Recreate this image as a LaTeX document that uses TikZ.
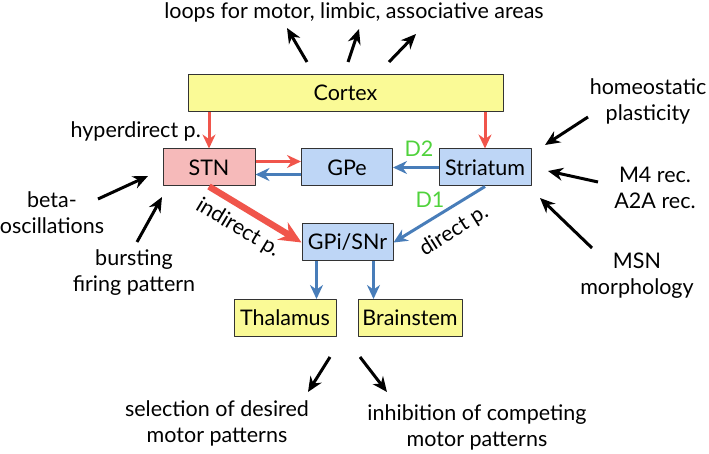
\documentclass[tikz,border=0pt]{standalone}
\usepackage{fontspec}
\setmainfont{Lato}
\usetikzlibrary{arrows.meta}
\definecolor{boxyellow}{RGB}{250,250,150}
\definecolor{boxpink}{RGB}{246,186,186}
\definecolor{boxblue}{RGB}{190,214,246}
\definecolor{exred}{RGB}{240,85,75}
\definecolor{inblue}{RGB}{72,125,185}
\definecolor{dgreen}{RGB}{80,210,60}
\begin{document}
\begin{tikzpicture}[x=1pt, y=-1pt, line join=round, >={Stealth[length=14pt,width=13pt]},
  font=\fontsize{21.5}{26}\selectfont,
  nucl/.style={draw=black!80, line width=1pt, minimum height=37pt, inner sep=0pt},
  exc/.style={->, exred, line width=3pt},
  inh/.style={->, inblue, line width=3pt},
  note/.style={-{Stealth[length=15pt,width=13pt]}, line width=3pt}]
\useasboundingbox (0,0) rectangle (709,454);
% nuclei
\node[nucl, fill=boxyellow, minimum width=315pt] (cortex) at (345.5,93) {Cortex};
\node[nucl, fill=boxpink, minimum width=92pt] (stn) at (209,167.5) {STN};
\node[nucl, fill=boxblue, minimum width=91pt] (gpe) at (347,167.5) {GPe};
\node[nucl, fill=boxblue, minimum width=92pt] (str) at (485,167.5) {Striatum};
\node[nucl, fill=boxblue, minimum width=91pt] (gpi) at (347.5,242.5) {GPi/SNr};
\node[nucl, fill=boxyellow, minimum width=102pt] (thal) at (285,318) {Thalamus};
\node[nucl, fill=boxyellow, minimum width=104pt] (brain) at (410,318) {Brainstem};
% pathways
\draw[exc] (cortex.south -| stn) -- (stn);
\draw[exc] (cortex.south -| str) -- (str);
\draw[exc] ([yshift=6pt]stn.east) -- ([yshift=6pt]gpe.west);
\draw[inh] ([yshift=-7pt]gpe.west) -- ([yshift=-7pt]stn.east);
\draw[inh] (str) -- (gpe);
\draw[exc, line width=6.5pt, -{Stealth[length=22pt,width=20pt]}] (stn.south) -- (gpi.west);
\draw[inh] (str.south) -- (gpi.east);
\draw[inh] ([xshift=-31pt]gpi.south) -- ([xshift=-31pt]gpi.south |- thal.north);
\draw[inh] ([xshift=26pt]gpi.south) -- ([xshift=26pt]gpi.south |- brain.north);
% labels
\node[text=dgreen] (d2) at (419,149) {D2};
\node[text=dgreen] (d1) at (430,200) {D1};
\node[rotate=-31] (indir) at (238,228) {indirect p.};
\node[rotate=32] (dir) at (454,231) {direct p.};
\node[anchor=east, inner sep=0pt] (hyper) at (201,131) {hyperdirect p.};
\node (loops) at (354,12) {loops for motor, limbic, associative areas};
\node[align=center] (beta) at (52,213) {beta-\\oscillations};
\node[align=center] (burst) at (134,272.5) {bursting\\firing pattern};
\node[align=center] (homeo) at (648,101) {homeostatic\\plasticity};
\node[align=center] (rec) at (655,187.5) {M4 rec.\\A2A rec.};
\node[align=center] (msn) at (637,275.5) {MSN\\morphology};
\node[align=center] (sel) at (217,423) {selection of desired\\motor patterns};
\node[align=center] (inhib) at (477,427.5) {inhibition of competing\\motor patterns};
% influences
\coordinate (loopsA) at (307,62); \coordinate (loopsA') at (287,28);
\coordinate (loopsB) at (348,62); \coordinate (loopsB') at (359,29);
\coordinate (loopsC) at (389,62); \coordinate (loopsC') at (416,34);
\coordinate (betaA) at (98,199); \coordinate (betaA') at (148,176);
\coordinate (burstA) at (137,242); \coordinate (burstA') at (162,197);
\coordinate (homeoA) at (588,117); \coordinate (homeoA') at (545,145);
\coordinate (recA) at (598,182); \coordinate (recA') at (548,171);
\coordinate (msnA) at (592,248); \coordinate (msnA') at (540,198);
\coordinate (selA) at (330,357); \coordinate (selA') at (308,392);
\coordinate (inhibA) at (360,357); \coordinate (inhibA') at (387,392);
\foreach \c in {loopsA,loopsB,loopsC,betaA,burstA,homeoA,recA,msnA,selA,inhibA}{
  \draw[note] (\c) -- (\c');
}
\end{tikzpicture}
\end{document}
